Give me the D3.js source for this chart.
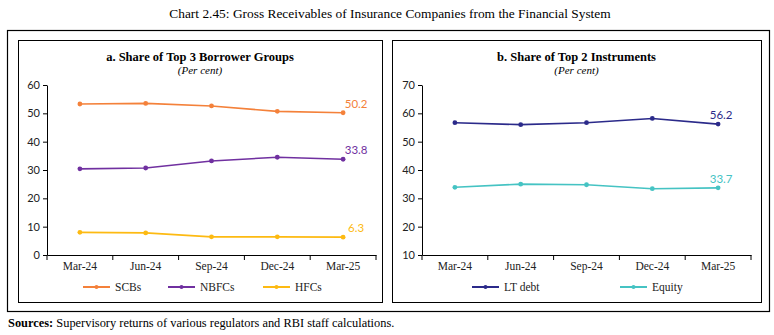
<!DOCTYPE html>
<html>
<head>
<meta charset="utf-8">
<script src="https://cdn.jsdelivr.net/npm/d3@7"></script>
<style>
  body { margin: 0; background: #fff; }
  svg text { font-family: "Liberation Serif", "DejaVu Serif", serif; }
</style>
</head>
<body>
<div id="chart"></div>
<script>
// Quarters on the x-axis
const quarters = ['Mar-24', 'Jun-24', 'Sep-24', 'Dec-24', 'Mar-25']

// Panel a: share of top 3 borrower groups (per cent)
const scbs = [53.3, 53.5, 52.6, 50.7, 50.2]
const nbfcs = [30.4, 30.7, 33.2, 34.5, 33.8]
const hfcs = [8.0, 7.8, 6.4, 6.4, 6.3]
const ticksA = [0, 10, 20, 30, 40, 50, 60]

// Panel b: share of top 2 instruments (per cent)
const ltDebt = [56.7, 56.0, 56.7, 58.2, 56.2]
const equity = [33.9, 35.0, 34.8, 33.4, 33.7]
const ticksB = [10, 20, 30, 40, 50, 60, 70]

const w = 774
const h = 335

const svg = d3.select('#chart')
              .append('svg')
              .attr('width', w)
              .attr('height', h)

// Chart title
svg.append('text')
  .attr('x', 390)
  .attr('y', 18)
  .attr('text-anchor', 'middle')
  .style('font-size', '13.4px')
  .text('Chart 2.45: Gross Receivables of Insurance Companies from the Financial System')

// Outer frame
svg.append('rect')
  .attr('x', 7.5).attr('y', 30.5)
  .attr('width', 762).attr('height', 281)
  .attr('fill', 'none').attr('stroke', '#000').attr('stroke-width', 1.2)

// Source note
const src = svg.append('text')
  .attr('x', 8)
  .attr('y', 327)
  .style('font-size', '12.4px')
src.append('tspan').style('font-weight', 'bold').text('Sources:')
src.append('tspan').text(' Supervisory returns of various regulators and RBI staff calculations.')

function drawPanel(opt) {
  const g = svg.append('g')

  // panel frame
  g.append('rect')
    .attr('x', opt.box[0] + 0.5).attr('y', 40.5)
    .attr('width', opt.box[1] - opt.box[0]).attr('height', 262)
    .attr('fill', 'none').attr('stroke', '#000').attr('stroke-width', 1)

  const cx = (opt.box[0] + opt.box[1]) / 2
  g.append('text')
    .attr('x', cx).attr('y', 61)
    .attr('text-anchor', 'middle')
    .style('font-size', '12.5px')
    .style('font-weight', 'bold')
    .text(opt.title)
  g.append('text')
    .attr('x', cx).attr('y', 74)
    .attr('text-anchor', 'middle')
    .style('font-size', '11px')
    .style('font-style', 'italic')
    .text('(Per cent)')

  const xScale = d3.scaleBand()
                   .domain(quarters)
                   .range([opt.x0, opt.x0 + 329])
  const yScale = d3.scaleLinear()
                   .domain(d3.extent(opt.ticks))
                   .range([255, 85])

  // y-axis
  const yAxis = d3.axisLeft(yScale).tickValues(opt.ticks).tickSize(4).tickSizeOuter(0)
  const ya = g.append('g')
    .attr('transform', `translate(${opt.x0}, 0)`)
    .call(yAxis)
  ya.selectAll('text')
    .style('font-family', 'Lato, "Open Sans", sans-serif')
    .style('font-size', '11px')
    .attr('fill', '#222')

  // x-axis with ticks between categories
  const xa = g.append('g')
    .attr('transform', `translate(0, 255)`)
    .call(d3.axisBottom(xScale).tickSize(0).tickSizeOuter(0))
  xa.select('.domain').attr('stroke', '#000')
  xa.selectAll('text')
    .attr('dy', '1.05em')
    .style('font-size', '11.5px')
    .attr('fill', '#222')
  const bounds = quarters.map(q => xScale(q)).concat([opt.x0 + 329])
  xa.selectAll('line.sep')
    .data(bounds)
    .enter()
    .append('line')
      .attr('class', 'sep')
      .attr('x1', d => d).attr('x2', d => d)
      .attr('y1', 0).attr('y2', 5)
      .attr('stroke', '#000')

  const line = d3.line()
                 .x((d, i) => xScale(quarters[i]) + xScale.bandwidth() / 2)
                 .y(d => yScale(d))

  opt.series.forEach(s => {
    g.append('path')
      .datum(s.values)
      .attr('d', line)
      .attr('fill', 'none')
      .attr('stroke', s.color)
      .attr('stroke-width', 1.6)
    g.selectAll(null)
      .data(s.values)
      .enter()
      .append('circle')
        .attr('cx', (d, i) => xScale(quarters[i]) + xScale.bandwidth() / 2)
        .attr('cy', d => yScale(d))
        .attr('r', 2.4)
        .attr('fill', s.color)
    // label on last point
    const last = s.values[s.values.length - 1]
    g.append('text')
      .attr('x', xScale(quarters[quarters.length - 1]) + xScale.bandwidth() / 2 + opt.labelDx)
      .attr('y', yScale(last) - 5)
      .attr('text-anchor', 'middle')
      .style('font-family', 'Lato, "Open Sans", sans-serif')
      .style('font-size', '11.5px')
      .attr('fill', s.color)
      .text(last.toFixed(1))
  })

  // legend
  opt.series.forEach((s, i) => {
    const lx = opt.legendX[i]
    g.append('line')
      .attr('x1', lx).attr('x2', lx + 27)
      .attr('y1', 287).attr('y2', 287)
      .attr('stroke', s.color).attr('stroke-width', 2)
    g.append('circle')
      .attr('cx', lx + 13.5).attr('cy', 287).attr('r', 2)
      .attr('fill', s.color)
    g.append('text')
      .attr('x', lx + 32).attr('y', 291)
      .style('font-size', '11.5px')
      .attr('fill', '#222')
      .text(s.name)
  })
}

drawPanel({
  box: [18, 382],
  x0: 47,
  title: 'a. Share of Top 3 Borrower Groups',
  ticks: ticksA,
  labelDx: 13,
  legendX: [83, 168, 263],
  series: [
    { name: 'SCBs', values: scbs, color: '#F4813A' },
    { name: 'NBFCs', values: nbfcs, color: '#7030A0' },
    { name: 'HFCs', values: hfcs, color: '#FDBA12' }
  ]
})

drawPanel({
  box: [392, 761],
  x0: 422,
  title: 'b. Share of Top 2 Instruments',
  ticks: ticksB,
  labelDx: 3,
  legendX: [472, 620],
  series: [
    { name: 'LT debt', values: ltDebt, color: '#2B2A8A' },
    { name: 'Equity', values: equity, color: '#45C3C3' }
  ]
})
</script>
</body>
</html>
